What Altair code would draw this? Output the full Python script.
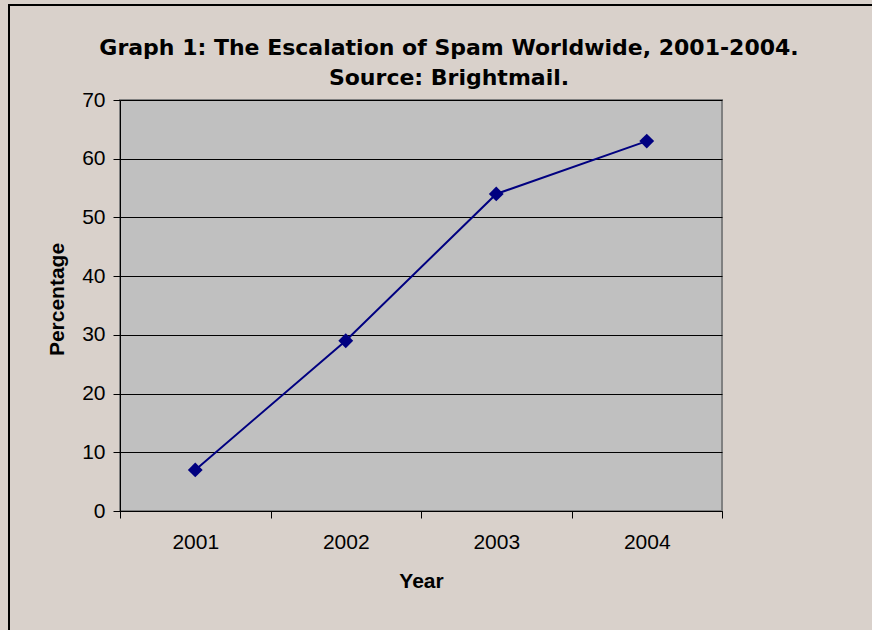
import altair as alt
import pandas as pd

years = ["2001", "2002", "2003", "2004"]
percent = [7, 29, 54, 63]
y_ticks = [0, 10, 20, 30, 40, 50, 60, 70]

df = pd.DataFrame({"Year": years, "Percentage": percent})

FONT = "Liberation Sans"
W, H = 602, 411

base = alt.Chart(df)

frame = base.mark_rect(fill=None, stroke="black", strokeWidth=1.5, clip=False).encode(
    x=alt.value(-111), x2=alt.value(950), y=alt.value(-95), y2=alt.value(650)
)

line = base.mark_line(color="#000080", strokeWidth=2).encode(
    x=alt.X("Year:O", sort=years,
            scale=alt.Scale(paddingInner=0, paddingOuter=0),
            axis=alt.Axis(title="Year", labelAngle=0, tickBand="extent",
                          tickSize=7, labelPadding=13, titlePadding=18,
                          domainColor="black", tickColor="black",
                          labelFontSize=21, titleFontSize=21,
                          labelFont=FONT, titleFont=FONT,
                          titleFontWeight="bold", labelColor="black",
                          titleColor="black", grid=False)),
    y=alt.Y("Percentage:Q",
            scale=alt.Scale(domain=[0, 70], nice=False),
            axis=alt.Axis(title="Percentage", values=y_ticks, tickSize=7,
                          labelPadding=8, titlePadding=14, titleY=199,
                          domainColor="black", tickColor="black",
                          gridColor="black", gridWidth=1, grid=True,
                          labelFontSize=21, titleFontSize=21,
                          labelFont=FONT, titleFont=FONT,
                          titleFontWeight="bold", labelColor="black",
                          titleColor="black")),
)

points = base.mark_point(shape="diamond", filled=True, color="#000080", size=220, opacity=1).encode(
    x=alt.X("Year:O", sort=years),
    y="Percentage:Q",
)

chart = alt.layer(frame, line, points).properties(
    width=W, height=H,
    background="#D9D1CB",
    padding={"left": 120, "top": 100, "right": 150, "bottom": 119},
    autosize=alt.AutoSizeParams(type="none"),
    title=alt.TitleParams(
        ["Graph 1: The Escalation of Spam Worldwide, 2001-2004.", "Source: Brightmail."],
        fontSize=22, fontWeight="bold", font="DejaVu Sans", color="black",
        anchor="middle", dx=28, offset=-86, lineHeight=30,
    ),
).configure_view(
    fill="#C0C0C0", stroke="#808080", strokeWidth=2
)

chart.save("out.html", embed_options={"renderer": "svg", "actions": False})
